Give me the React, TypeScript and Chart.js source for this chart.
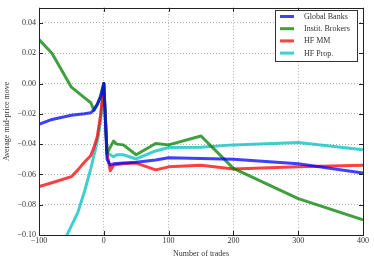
import React, { useEffect, useRef } from "react";
import { Chart, registerables } from "chart.js";

Chart.register(...registerables);

const xValues = [-100, -80, -50, -40, -30, -20, -15, -10, -5, 0, 5, 10, 15, 20, 30, 50, 80, 100, 150, 200, 300, 400];

const globalBanks = [-0.027, -0.0237, -0.021, -0.0205, -0.0200, -0.0193, -0.0172, -0.0135, -0.009, 0.0, -0.050, -0.0538, -0.053, -0.0528, -0.0525, -0.052, -0.0505, -0.049, -0.0495, -0.050, -0.053, -0.059];
const institBrokers = [0.029, 0.020, -0.0024, -0.0058, -0.0093, -0.0127, -0.0177, -0.014, -0.008, 0.0, -0.046, -0.042, -0.038, -0.040, -0.0405, -0.047, -0.0396, -0.0405, -0.0346, -0.056, -0.076, -0.090];
const hfMM = [-0.068, -0.0655, -0.0615, -0.057, -0.052, -0.0475, -0.042, -0.035, -0.021, 0.0, -0.046, -0.0575, -0.054, -0.0535, -0.053, -0.0525, -0.057, -0.055, -0.054, -0.0565, -0.055, -0.054];
const hfProp = [-0.14, -0.12, -0.094, -0.085, -0.0716, -0.056, -0.047, -0.038, -0.025, 0.0, -0.046, -0.047, -0.0483, -0.047, -0.047, -0.0498, -0.0445, -0.0422, -0.042, -0.0405, -0.039, -0.0437];

const seriesLabels = ["Global Banks", "Instit. Brokers", "HF MM", "HF Prop."];
const seriesValues = [globalBanks, institBrokers, hfMM, hfProp];
const seriesColors = ["rgba(0,0,255,0.75)", "rgba(0,128,0,0.75)", "rgba(255,0,0,0.75)", "rgba(0,191,191,0.75)"];

const xTickValues = [-100, 0, 100, 200, 300, 400];
const yTickValues = [-0.1, -0.08, -0.06, -0.04, -0.02, 0.0, 0.02, 0.04];

const FONT = "'Liberation Serif', 'DejaVu Serif', serif";

const fmt = (v: number, d: number) => {
  const s = Math.abs(v) < 1e-9 ? (0).toFixed(d) : v.toFixed(d);
  return s.replace("-", "\u2212");
};

const framePlugin = {
  id: "frame",
  afterDraw(chart: any) {
    const { ctx, chartArea: a, scales } = chart;
    ctx.save();
    ctx.strokeStyle = "#222";
    ctx.lineWidth = 1;
    const tl = 4;
    ctx.beginPath();
    xTickValues.forEach((v) => {
      const px = Math.round(scales.x.getPixelForValue(v)) + 0.5;
      ctx.moveTo(px, a.bottom);
      ctx.lineTo(px, a.bottom - tl);
      ctx.moveTo(px, a.top);
      ctx.lineTo(px, a.top + tl);
    });
    yTickValues.forEach((v) => {
      const py = Math.round(scales.y.getPixelForValue(v)) + 0.5;
      ctx.moveTo(a.left, py);
      ctx.lineTo(a.left + tl, py);
      ctx.moveTo(a.right, py);
      ctx.lineTo(a.right - tl, py);
    });
    ctx.stroke();
    ctx.strokeRect(Math.round(a.left) + 0.5, Math.round(a.top) + 0.5, Math.round(a.right - a.left), Math.round(a.bottom - a.top));

    // legend
    const bx = 275.5, by = 10.5, bw = 82, bh = 51;
    ctx.fillStyle = "#fff";
    ctx.fillRect(bx, by, bw, bh);
    ctx.strokeStyle = "#333";
    ctx.strokeRect(bx, by, bw, bh);
    ctx.font = `8px ${FONT}`;
    ctx.textBaseline = "middle";
    ctx.textAlign = "left";
    chart.data.datasets.forEach((ds: any, i: number) => {
      const y = 16.5 + i * 12.2;
      ctx.strokeStyle = ds.borderColor;
      ctx.lineWidth = 3;
      ctx.beginPath();
      ctx.moveTo(280, y);
      ctx.lineTo(294, y);
      ctx.stroke();
      ctx.fillStyle = "#333";
      ctx.fillText(ds.label, 304, y + 0.5);
    });
    ctx.restore();
  },
};

export default function App() {
  const ref = useRef<HTMLCanvasElement>(null);
  useEffect(() => {
    if (!ref.current) return;
    const chart = new Chart(ref.current, {
      type: "line",
      data: {
        datasets: seriesValues.map((vals, i) => ({
          label: seriesLabels[i],
          data: xValues.map((x, j) => ({ x, y: vals[j] })),
          borderColor: seriesColors[i],
          backgroundColor: seriesColors[i],
          borderWidth: 3,
          pointRadius: 0,
          tension: 0,
          fill: false,
          borderJoinStyle: "round",
        })),
      },
      options: {
        animation: false,
        responsive: false,
        devicePixelRatio: 1,
        layout: { padding: { left: 0, right: 11, top: 6, bottom: 0 } },
        plugins: { legend: { display: false }, tooltip: { enabled: false } },
        scales: {
          x: {
            type: "linear",
            min: -100,
            max: 400,
            afterFit: (s: any) => { s.height = 26; },
            afterBuildTicks: (s: any) => { s.ticks = xTickValues.map((v) => ({ value: v })); },
            ticks: {
              font: { family: FONT, size: 8 },
              color: "#333",
              padding: 1,
              maxRotation: 0,
              callback: (v: any) => fmt(Number(v), 0),
            },
            grid: { color: "#b0b0b0", drawTicks: false, lineWidth: 1 },
            border: { display: false, dash: [1, 2] },
            title: { display: true, text: "Number of trades", font: { family: FONT, size: 8 }, color: "#333", padding: { top: 2, bottom: 2 } },
          },
          y: {
            type: "linear",
            min: -0.1,
            max: 0.05,
            afterFit: (s: any) => { s.width = 39; },
            afterBuildTicks: (s: any) => { s.ticks = yTickValues.map((v) => ({ value: v })); },
            ticks: {
              font: { family: FONT, size: 8 },
              color: "#333",
              padding: 3,
              callback: (v: any) => fmt(Number(v), 2),
            },
            grid: { color: "#b0b0b0", drawTicks: false, lineWidth: 1 },
            border: { display: false, dash: [1, 2] },
            title: { display: true, text: "Average mid-price move", font: { family: FONT, size: 8 }, color: "#333", padding: { top: 2, bottom: 2 } },
          },
        },
      },
      plugins: [framePlugin],
    } as any);
    return () => chart.destroy();
  }, []);
  return (
    <div style={{ position: "absolute", left: 0, top: 0, width: 374, height: 261, background: "#fff" }}>
      <canvas ref={ref} width={374} height={261} />
    </div>
  );
}
